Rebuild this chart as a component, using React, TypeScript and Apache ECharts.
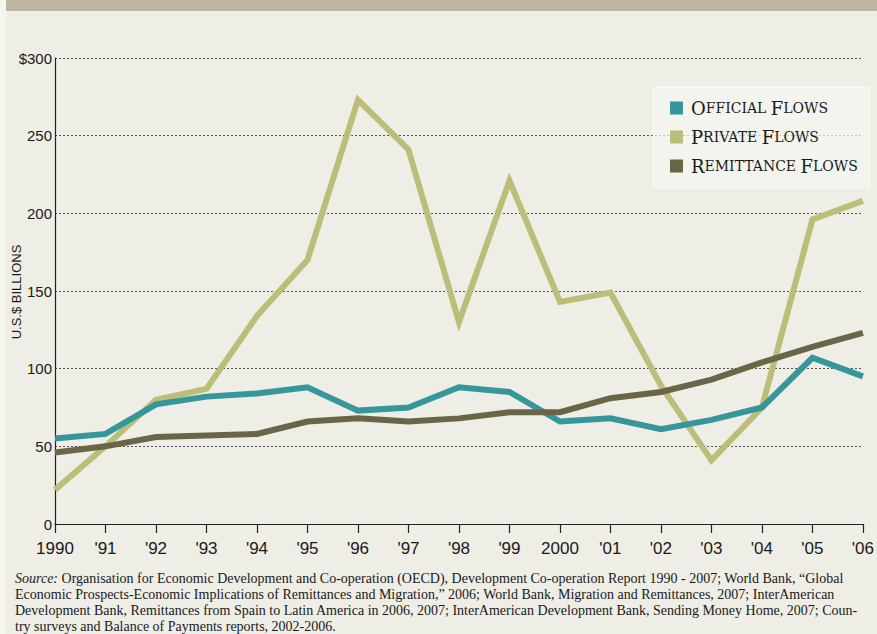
import React, { useEffect, useRef } from "react";
import * as echarts from "echarts";

const years = ["1990", "'91", "'92", "'93", "'94", "'95", "'96", "'97", "'98", "'99", "2000", "'01", "'02", "'03", "'04", "'05", "'06"];
const officialFlows = [55, 58, 77, 82, 84, 88, 73, 75, 88, 85, 66, 68, 61, 67, 75, 107, 95];
const privateFlows = [22, 50, 80, 87, 134, 170, 273, 241, 130, 221, 143, 149, 89, 41, 75, 196, 208];
const remittanceFlows = [46, 50, 56, 57, 58, 66, 68, 66, 68, 72, 72, 81, 85, 93, 104, 114, 123];
const seriesNames = ["Official Flows", "Private Flows", "Remittance Flows"];
const seriesColors = ["#36979b", "#bdbd7a", "#6b6548"];

const sourceLines = [
  "{i|Source:} Organisation for Economic Development and Co-operation (OECD), Development Co-operation Report 1990 - 2007; World Bank, \u201cGlobal",
  "Economic Prospects-Economic Implications of Remittances and Migration,\u201d 2006; World Bank, Migration and Remittances, 2007; InterAmerican",
  "Development Bank, Remittances from Spain to Latin America in 2006, 2007; InterAmerican Development Bank, Sending Money Home, 2007; Coun-",
  "try surveys and Balance of Payments reports, 2002-2006.",
];

const SANS = "'Liberation Sans', Arial, sans-serif";
const SERIF = "'Liberation Serif', 'DejaVu Serif', serif";
const LEGEND_SERIF = "'DejaVu Serif', serif";

function smallCaps(name: string) {
  return name
    .split(" ")
    .map((w) => `{b|${w[0].toUpperCase()}}{s|${w.slice(1).toUpperCase()}}`)
    .join("{s| }");
}

export default function App() {
  const ref = useRef<HTMLDivElement>(null);
  useEffect(() => {
    if (!ref.current) return;
    const chart = echarts.init(ref.current, undefined, { renderer: "svg" });
    const data = [officialFlows, privateFlows, remittanceFlows];
    chart.setOption({
      animation: false,
      backgroundColor: "#eeede6",
      grid: { left: 55, right: 12, top: 58, bottom: 110, containLabel: false },
      legend: {
        orient: "vertical",
        left: 653,
        top: 87,
        padding: [12, 12, 13, 17],
        backgroundColor: "rgba(246,246,241,0.7)",
        borderColor: "rgba(255,255,255,0.6)",
        borderWidth: 1,
        itemWidth: 13,
        itemHeight: 13,
        itemGap: 11,
        icon: "rect",
        data: seriesNames,
        formatter: (name: string) => smallCaps(name),
        textStyle: {
          color: "#1a1a1a",
          fontFamily: LEGEND_SERIF,
          padding: [0, 0, 0, 3],
          rich: {
            b: { fontSize: 18, fontFamily: LEGEND_SERIF, color: "#1a1a1a", lineHeight: 18 },
            s: { fontSize: 14, fontFamily: LEGEND_SERIF, color: "#1a1a1a", lineHeight: 18 },
          },
        },
      },
      xAxis: {
        type: "category",
        data: years,
        boundaryGap: false,
        axisLine: { show: true, lineStyle: { color: "#222", width: 1.2 } },
        axisTick: { show: true, interval: 0, length: 9, lineStyle: { color: "#222", width: 1.2 } },
        axisLabel: { interval: 0, color: "#1a1a1a", fontSize: 17, fontFamily: SANS, margin: 16 },
        splitLine: { show: false },
      },
      yAxis: {
        type: "value",
        min: 0,
        max: 300,
        interval: 50,
        axisLine: { show: true, lineStyle: { color: "#222", width: 1.2 } },
        axisTick: { show: false },
        axisLabel: {
          color: "#1a1a1a",
          fontSize: 15,
          fontFamily: SANS,
          margin: 3,
          formatter: (v: number) => (v === 300 ? "$300" : String(v)),
        },
        splitLine: { show: true, lineStyle: { color: "#555", width: 1, type: [2, 2] } },
      },
      series: seriesNames.map((name, i) => ({
        name,
        type: "line",
        data: data[i],
        symbol: "none",
        itemStyle: { color: seriesColors[i] },
        lineStyle: { color: seriesColors[i], width: 6, join: "miter" },
        z: i === 1 ? 2 : 3,
      })),
      graphic: [
        { type: "rect", left: 0, top: 0, shape: { width: 6, height: 634 }, style: { fill: "#f5f5f0" }, silent: true },
        { type: "rect", left: 6, top: 0, shape: { width: 871, height: 11 }, style: { fill: "#bdb59f" }, silent: true },
        {
          type: "text",
          x: 16,
          y: 292,
          rotation: Math.PI / 2,
          style: {
            text: "U.S.$ BILLIONS",
            font: `13px ${SANS}`,
            fill: "#1a1a1a",
            align: "center",
            verticalAlign: "middle",
          },
        },
        {
          type: "text",
          x: 15,
          y: 570,
          style: {
            text: sourceLines.join("\n"),
            font: `14px ${SERIF}`,
            fill: "#1a1a1a",
            lineHeight: 16,
            rich: {
              i: { fontStyle: "italic", fontSize: 14, fontFamily: SERIF, fill: "#1a1a1a", lineHeight: 16 },
            },
          },
        },
      ],
    });
    return () => chart.dispose();
  }, []);
  return <div ref={ref} style={{ position: "fixed", left: 0, top: 0, width: 877, height: 634 }} />;
}
